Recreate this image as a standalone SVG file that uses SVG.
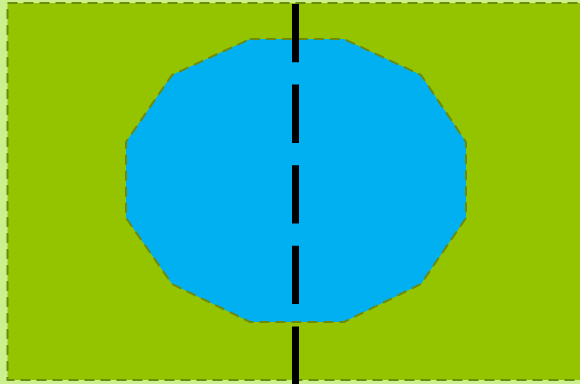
<svg xmlns="http://www.w3.org/2000/svg" width="580" height="384" viewBox="0 0 580 384">
<style>
.edge{stroke:#6a8a10;stroke-width:2;stroke-dasharray:10 6;}
</style>
<rect x="0" y="0" width="580" height="384" fill="#ccf08e"/>
<g id="field">
<rect x="7.5" y="3" width="575" height="377" fill="#94c400" class="edge"/>
</g>
<g id="pond">
<polygon points="250,39 344,39 421,75 466,142 466,218 421,284 344,322 250,322 172,284 126,218 126,142 172,75" fill="#00b0f0" class="edge"/>
</g>
<g id="connectors">
<line x1="295.5" y1="4" x2="295.5" y2="384" stroke="#000" stroke-width="7" stroke-dasharray="58.3 22.3"/>
</g>
</svg>
